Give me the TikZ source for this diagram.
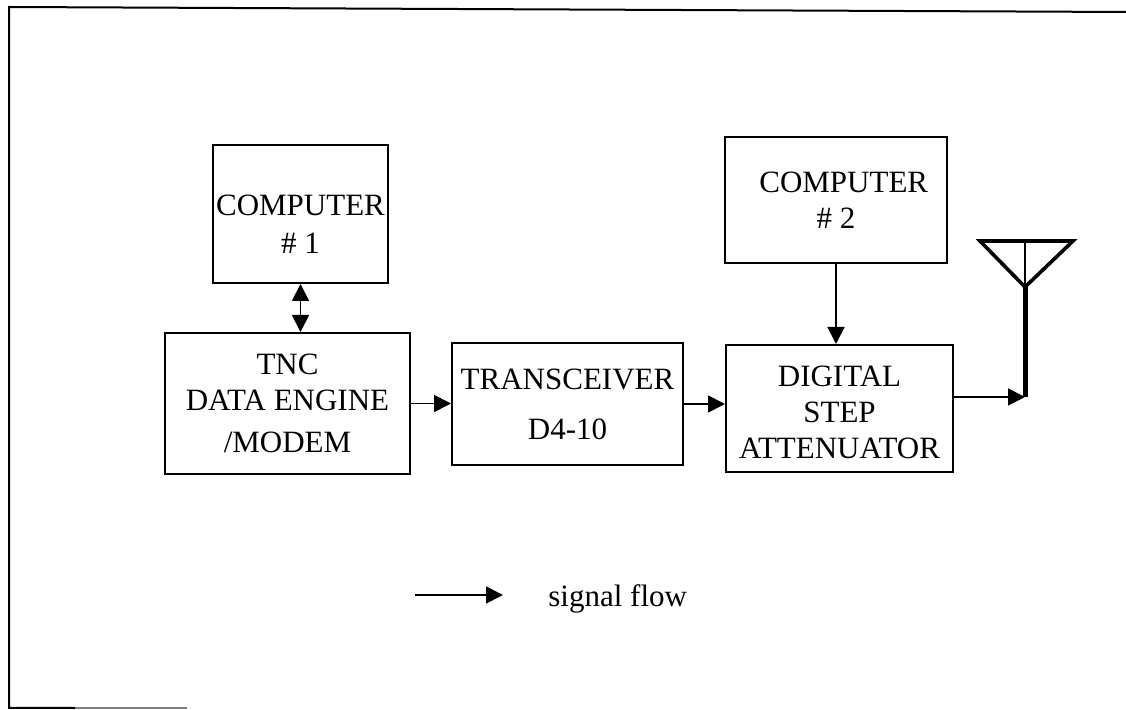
\documentclass[tikz,border=0pt]{standalone}
\usepackage{fontspec}
\setmainfont{Liberation Serif}
\usetikzlibrary{arrows.meta}

\tikzset{
  block/.style={draw, line width=1pt, inner sep=1pt, align=center,
    font={\fontsize{15.5}{18}\selectfont}},
  link/.style={line width=0.9pt},
}

\begin{document}
\begin{tikzpicture}[x=0.5pt, y=-0.5pt, >={Triangle[length=8.5pt,width=8.5pt]}]
  \useasboundingbox (0,0) rectangle (1126,710);
  % frame of the scanned page
  \draw[line width=1pt] (1126,12) -- (9,7) -- (9,708) -- (75,708);
  \draw[gray, line width=0.8pt] (75,708) -- (187,708);

  % blocks
  \node[block, minimum width=87.5pt, minimum height=69pt] (comp1) at (300.5,214) {\rule{0pt}{21pt}COMPUTER\\[1pt]\# 1};
  \node[block, minimum width=122.5pt, minimum height=70.5pt] (tnc) at (287.5,403.5) {TNC\\DATA ENGINE\\[3pt]/MODEM};
  \node[block, minimum width=115.5pt, minimum height=61pt] (trx) at (567.5,404) {TRANSCEIVER\\[7pt]D4-10};
  \node[block, minimum width=113.5pt, minimum height=63.5pt] (atten) at (839.5,408.5) {\rule{0pt}{14pt}DIGITAL\\STEP\\ATTENUATOR};
  \node[block, minimum width=111pt, minimum height=63pt] (comp2) at (836,200) {\ \ COMPUTER\\\# 2};

  % connections
  \draw[link, <->] (comp1.south) -- (comp1.south |- tnc.north);
  \draw[link, ->] (tnc.east) -- (tnc.east -| trx.west);
  \draw[link, ->] (trx.east) -- (trx.east -| atten.west);
  \draw[link, ->] (comp2.south) -- (comp2.south |- atten.north);

  % antenna
  \coordinate (feed) at (1025,397);
  \coordinate (apex) at (1025,287);
  \coordinate (tipL) at (980,241);
  \coordinate (tipR) at (1073,241);
  \draw[link, ->] (atten.east |- feed) -- (feed);
  \draw[line width=2.5pt] (feed) -- (apex);
  \draw[line width=1.8pt, line join=miter] (tipL) -- (tipR) -- (apex) -- cycle;
  \draw[line width=1pt] (apex) -- (apex |- tipL);

  % legend
  \coordinate (legA) at (415,595);
  \coordinate (legB) at (503,595);
  \draw[link, ->] (legA) -- (legB);
  \node[anchor=base west, inner sep=0pt, font={\fontsize{15.5}{18}\selectfont}] (legtext) at (548,607) {signal flow};
\end{tikzpicture}
\end{document}
